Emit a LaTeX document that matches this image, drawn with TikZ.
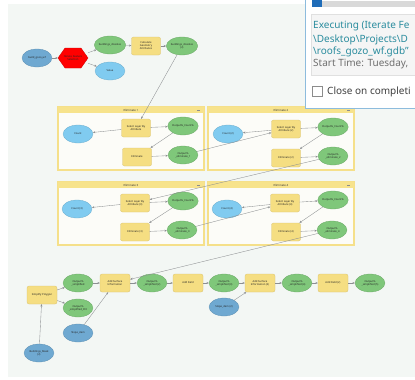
\documentclass[tikz,border=0pt]{standalone}
\usepackage{fontspec}
\setmainfont{Noto Sans}
\usetikzlibrary{shapes.geometric,arrows.meta,calc}
\definecolor{canvas}{HTML}{F3F7F4}
\definecolor{inblue}{HTML}{6FA9D1}
\definecolor{valblue}{HTML}{80CBF0}
\definecolor{outgreen}{HTML}{7FC77A}
\definecolor{toolyel}{HTML}{F5DE82}
\definecolor{grpline}{HTML}{F5E08A}
\definecolor{grphead}{HTML}{F7E38C}
\definecolor{grpfill}{HTML}{FCFCF8}
\definecolor{linegray}{HTML}{8C8F91}
\definecolor{dlgborder}{HTML}{8DBCDD}
\definecolor{dlgteal}{HTML}{2A8C9E}
\definecolor{dlggray}{HTML}{6E6E6E}
\definecolor{barblue}{HTML}{1F6CB8}
\tikzset{
  tinytext/.style={font=\fontsize{2.6}{3}\selectfont, align=center, text=black!85},
  inp/.style={ellipse, fill=inblue, draw=inblue!85!black, line width=0.3pt, minimum width=30pt, minimum height=18pt, inner sep=0pt, tinytext},
  val/.style={ellipse, fill=valblue, draw=valblue!85!black, line width=0.3pt, minimum width=30pt, minimum height=18pt, inner sep=0pt, tinytext},
  outg/.style={ellipse, fill=outgreen, draw=outgreen!85!black, line width=0.3pt, minimum width=30pt, minimum height=18pt, inner sep=0pt, tinytext},
  toolbox/.style={rectangle, rounded corners=2pt, fill=toolyel, draw=toolyel!88!black, line width=0.3pt, minimum width=29pt, minimum height=18pt, inner sep=0pt, tinytext},
  conn/.style={draw=linegray, line width=0.35pt, -{Stealth[length=2.4pt,width=2pt]}},
  grpframe/.style={draw=grpline, line width=1.4pt, fill=grpfill},
  grptitle/.style={font=\fontsize{2.8}{3}\selectfont, text=black!80, inner sep=0pt},
  dlgtext/.style={font=\fontsize{10}{12}\selectfont, anchor=west, inner sep=0pt}
}
\begin{document}
\begin{tikzpicture}[x=1pt,y=-1pt]
\useasboundingbox (0,0) rectangle (415,380);
\fill[white] (0,0) rectangle (415,380);
\fill[canvas] (8,4) rectangle (415,377);

% ---------- groups ----------
\foreach \gx/\gy/\gt in {58/107/Eliminate 1, 208/107/Eliminate 2, 58/182/Eliminate 3, 208/182/Eliminate 4}{
  \path[grpframe] (\gx,\gy) rectangle ++(146,63);
  \fill[grphead] (\gx,\gy) rectangle ++(146,6);
  \node[grptitle] at ($(\gx,\gy)+(73,3)$) {\gt};
  \draw[black!45, line width=0.3pt] ($(\gx,\gy)+(139,3)$) -- ++(3,0);
}

% ---------- top row ----------
\node[inp] (in1) at (37,58) {build\_gozo\_wf};
\fill[red, draw=red!80!black, line width=0.3pt] (58,58) -- (65,48) -- (81,48) -- (88,58) -- (81,68) -- (65,68) -- cycle;
\node[tinytext, minimum width=30pt, minimum height=20pt, inner sep=0pt] (hex) at (73,58) {Iterate Feature\\Selection};
\node[outg] (g1) at (110,45) {buildings\_dissolve};
\node[val] (v1) at (110,71) {Value};
\node[toolbox] (calc) at (146,46) {Calculate\\Geometry\\Attributes};
\node[outg] (g2) at (182,46) {buildings\_dissolve\\(2)};

\draw[conn] (in1) -- (hex);
\draw[conn] (hex) -- (g1);
\draw[conn] (hex) -- (v1);
\draw[conn] (g1) -- (calc);
\draw[conn] (calc) -- (g2);

% ---------- group nodes ----------
% group 1
\node[val] (cnt1) at (78,134) {Count};
\node[toolbox] (sel1) at (136,128) {Select Layer By\\Attribute};
\node[outg] (oa1) at (183,126) {Output\%\_Count\%};
\node[toolbox] (el1) at (137,157) {Eliminate};
\node[outg] (ob1) at (183,155) {Output\%\\\_eliminate\_1};
% group 2
\node[val] (cnt2) at (228,134) {Count (2)};
\node[toolbox] (sel2) at (286,129) {Select Layer By\\Attribute (2)};
\node[outg] (oa2) at (333,127) {Output\%\_Count\%};
\node[toolbox] (el2) at (286,158) {Eliminate (2)};
\node[outg] (ob2) at (333,156) {Output\%\\\_eliminate\_2};
% group 3
\node[val] (cnt3) at (77,209) {Count (3)};
\node[toolbox] (sel3) at (135,203) {Select Layer By\\Attribute (3)};
\node[outg] (oa3) at (183,201) {Output\%\_Count\%};
\node[toolbox] (el3) at (135,232) {Eliminate (3)};
\node[outg] (ob3) at (182,230) {Output\%\\\_eliminate\_3};
% group 4
\node[val] (cnt4) at (227,209) {Count (4)};
\node[toolbox] (sel4) at (285,203) {Select Layer By\\Attribute (4)};
\node[outg] (oa4) at (333,200) {Output\%\_Count\%};
\node[toolbox] (el4) at (286,232) {Eliminate (4)};
\node[outg] (ob4) at (332,230) {Output\%\\\_eliminate\_4};

\foreach \k in {1,2,3,4}{
  \draw[conn] (sel\k) -- (cnt\k);
  \draw[conn] (sel\k) -- (oa\k);
  \draw[conn] (oa\k) -- (el\k);
  \draw[conn] (el\k) -- (ob\k);
}
\draw[conn] (g2) -- (sel1);
\draw[conn] (ob1) -- (sel2);
\draw[conn] (ob2) -- (sel3);
\draw[conn] (ob3) -- (sel4);

% ---------- bottom row ----------
\node[toolbox, minimum width=30pt] (simp) at (42,295) {Simplify Polygon};
\node[outg] (o1) at (78,283) {Output\%\\\_simplified};
\node[outg] (o2) at (78,308) {Output\%\\\_simplified\_Pnt};
\node[toolbox, minimum width=30pt] (asi) at (115,283) {Add Surface\\Information};
\node[outg] (o3) at (152,283) {Output\%\\\_simplified (2)};
\node[toolbox, minimum width=30pt] (af) at (188,283) {Add Field};
\node[outg] (o4) at (224,283) {Output\%\\\_simplified (3)};
\node[toolbox, minimum width=30pt] (asi2) at (260,283) {Add Surface\\Information (2)};
\node[outg] (o5) at (297,283) {Output\%\\\_simplified (4)};
\node[toolbox, minimum width=30pt] (af2) at (333,283) {Add Field (2)};
\node[outg] (o6) at (370,283) {Output\%\\\_simplified (5)};
\node[inp] (slope) at (78,333) {Slope\_dem};
\node[inp] (slope2) at (224,307) {Slope\_dem (2)};
\node[inp] (mask) at (39,353) {Buildings\_Mask\\(2)};

\draw[conn] (ob4) -- (asi);
\draw[conn] (mask) -- (simp);
\draw[conn] (simp) -- (o1);
\draw[conn] (simp) -- (o2);
\draw[conn] (o1) -- (asi);
\draw[conn] (slope) -- (asi);
\draw[conn] (asi) -- (o3);
\draw[conn] (o3) -- (af);
\draw[conn] (af) -- (o4);
\draw[conn] (o4) -- (asi2);
\draw[conn] (slope2) -- (asi2);
\draw[conn] (asi2) -- (o5);
\draw[conn] (o5) -- (af2);
\draw[conn] (af2) -- (o6);

% ---------- dialog ----------
\begin{scope}
\clip (0,0) rectangle (415,380);
\filldraw[fill=white, draw=dlgborder, line width=1pt] (305,-2) rectangle (418,108);
\fill[black!15] (312,1) rectangle (418,7);
\fill[barblue] (312,0) rectangle (322,7);
\filldraw[fill=black!4, draw=black!12, line width=0.6pt] (311,14) rectangle (418,75);
\node[dlgtext, text=dlgteal] (l1) at (313,26.5) {Executing (Iterate Fe};
\node[dlgtext, text=dlgteal] (l2) at (313,39.5) {\textbackslash Desktop\textbackslash Projects\textbackslash D};
\node[dlgtext, text=dlgteal] (l3) at (313,52) {\textbackslash roofs\_gozo\_wf.gdb"};
\node[dlgtext, text=dlggray] (l4) at (313,64) {Start Time: Tuesday,};
\filldraw[fill=white, draw=black!45, line width=0.6pt] (312.5,86.5) rectangle (322.5,96.5);
\node[dlgtext, text=black!75] (l5) at (327,91.5) {Close on completi};
\end{scope}
\end{tikzpicture}
\end{document}
